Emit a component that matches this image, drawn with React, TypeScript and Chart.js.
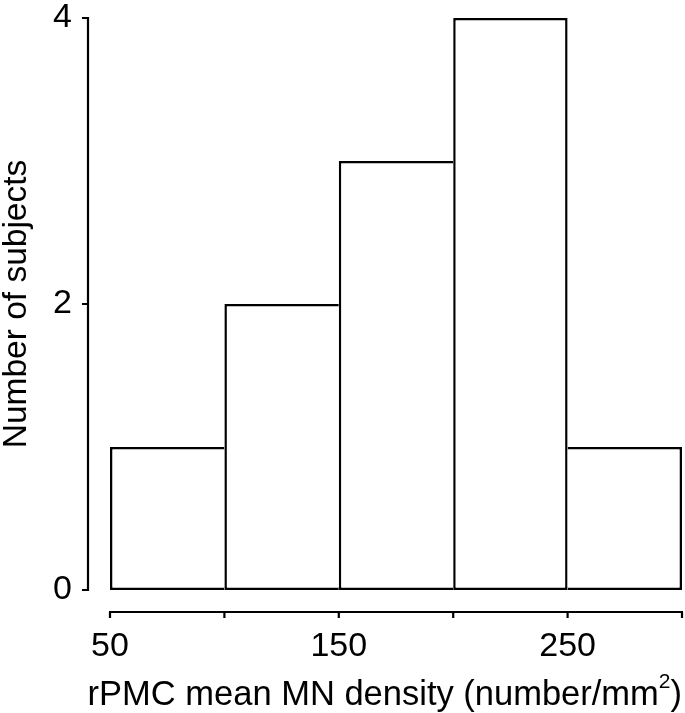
import React, { useEffect, useRef } from 'react';
import { Chart, registerables } from 'chart.js';

Chart.register(...registerables);

// ---- data ----
const binStarts = [50, 100, 150, 200, 250];
const binWidth = 50;
const counts = [1, 2, 3, 4, 1];
const xLabelValues = [50, 150, 250];
const xMin = 50;
const xMax = 300;
const yMin = 0;
const yMax = 4;
const yStep = 2;
const xTitleMain = 'rPMC mean MN density (number/mm';
const xTitleSup = '2';
const xTitleEnd = ')';
const yTitle = 'Number of subjects';

const FONT = "'Liberation Sans', Arial, Helvetica, sans-serif";

const detachedAxes = {
  id: 'detachedAxes',
  afterDraw(chart: any) {
    const { ctx, chartArea, scales } = chart;
    const x = scales.x;
    const y = scales.y;
    const gap = 22;
    const tick = 6;
    ctx.save();
    ctx.strokeStyle = '#000';
    ctx.lineWidth = 2.2;
    ctx.lineCap = 'butt';
    ctx.beginPath();
    // x axis
    const xa = chartArea.bottom + gap;
    ctx.moveTo(x.getPixelForValue(x.min) - 1, xa);
    ctx.lineTo(x.getPixelForValue(x.max) + 1, xa);
    x.ticks.forEach((t: any) => {
      const px = x.getPixelForValue(t.value);
      ctx.moveTo(px, xa);
      ctx.lineTo(px, xa + tick);
    });
    // y axis
    const ya = chartArea.left - gap;
    ctx.moveTo(ya, y.getPixelForValue(y.max) - 1);
    ctx.lineTo(ya, y.getPixelForValue(y.min) + 1);
    y.ticks.forEach((t: any) => {
      const py = y.getPixelForValue(t.value);
      ctx.moveTo(ya, py);
      ctx.lineTo(ya - tick, py);
    });
    ctx.stroke();

    // x axis title with superscript, right-aligned to the plot's right edge
    const mainFont = `34.5px ${FONT}`;
    const supFont = `21px ${FONT}`;
    ctx.fillStyle = '#000';
    ctx.textBaseline = 'alphabetic';
    ctx.textAlign = 'left';
    ctx.font = mainFont;
    const wMain = ctx.measureText(xTitleMain).width;
    const wEnd = ctx.measureText(xTitleEnd).width;
    ctx.font = supFont;
    const wSup = ctx.measureText(xTitleSup).width;
    const baseline = x.bottom - 8;
    let cx = chartArea.right - (wMain + wSup + wEnd);
    ctx.font = mainFont;
    ctx.fillText(xTitleMain, cx, baseline);
    cx += wMain;
    ctx.font = supFont;
    ctx.fillText(xTitleSup, cx, baseline - 17);
    cx += wSup;
    ctx.font = mainFont;
    ctx.fillText(xTitleEnd, cx, baseline);
    ctx.restore();
  },
};

export default function App() {
  const ref = useRef<HTMLCanvasElement | null>(null);

  useEffect(() => {
    if (!ref.current) return;
    const data = binStarts.map((s, i) => ({ x: s + binWidth / 2, y: counts[i] }));
    const chart = new Chart(ref.current, {
      type: 'bar',
      data: {
        datasets: [
          {
            data: data as any,
            backgroundColor: '#ffffff',
            borderColor: '#000000',
            borderWidth: 2.5,
            borderSkipped: ((c: any) => {
              const i = c.dataIndex;
              const next = counts[i + 1];
              const prev = counts[i - 1];
              if (next !== undefined && next >= counts[i]) return 'right';
              if (prev !== undefined && prev > counts[i]) return 'left';
              return false;
            }) as any,
            barPercentage: 1,
            categoryPercentage: 1,
            inflateAmount: 0,
          } as any,
        ],
      },
      options: {
        responsive: false,
        animation: false,
        devicePixelRatio: 1,
        layout: { padding: { left: 0, top: 18, right: 3, bottom: 0 } },
        plugins: {
          legend: { display: false },
          tooltip: { enabled: false },
        },
        scales: {
          x: {
            type: 'linear',
            min: xMin,
            max: xMax,
            offset: false,
            afterFit: (s: any) => {
              s.height = 123;
              s.paddingLeft = 0;
              s.paddingRight = 0;
            },
            grid: { display: false, drawTicks: false, offset: false },
            border: { display: false },
            ticks: {
              stepSize: binWidth,
              color: '#000',
              padding: 36,
              maxRotation: 0,
              autoSkip: false,
              font: { family: FONT, size: 34, lineHeight: 1.2 },
              callback: (v: any) => (xLabelValues.includes(Number(v)) ? String(v) : ''),
            },
            title: { display: false },
          },
          y: {
            type: 'linear',
            min: yMin,
            max: yMax,
            afterFit: (s: any) => {
              s.width = 110;
              s.paddingTop = 0;
              s.paddingBottom = 0;
            },
            grid: { display: false, drawTicks: false },
            border: { display: false },
            ticks: {
              stepSize: yStep,
              color: '#000',
              padding: 38,
              font: { family: FONT, size: 34, lineHeight: 1 },
            },
            title: {
              display: true,
              text: yTitle,
              color: '#000',
              font: { family: FONT, size: 33.5, lineHeight: 1 },
              padding: { top: 0, bottom: 0 },
            },
          },
        },
      } as any,
      plugins: [detachedAxes],
    });
    return () => chart.destroy();
  }, []);

  return (
    <div style={{ position: 'absolute', left: 0, top: 0, width: 685, height: 713, background: '#fff' }}>
      <canvas ref={ref} width={685} height={713} style={{ display: 'block' }} />
    </div>
  );
}
